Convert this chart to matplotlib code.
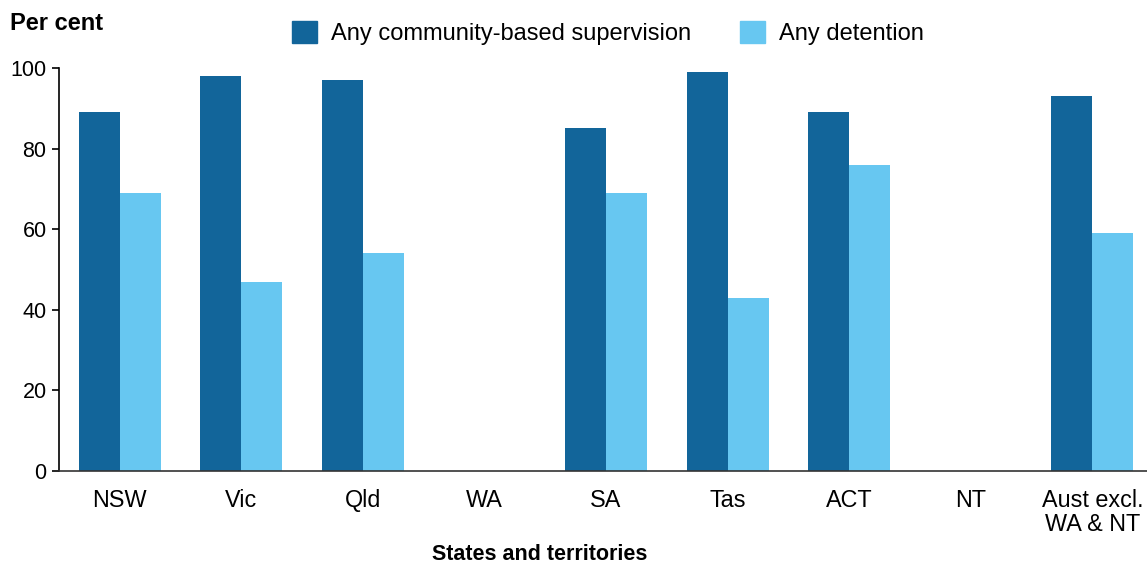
import numpy as np
import matplotlib.pyplot as plt
from matplotlib.patches import Patch

plt.rcParams.update({'font.family': ['Liberation Sans', 'DejaVu Sans']})

# data
categories = ['NSW', 'Vic', 'Qld', 'WA', 'SA', 'Tas', 'ACT', 'NT', 'Aust excl.\nWA & NT']
community = [89, 98, 97, np.nan, 85, 99, 89, np.nan, 93]
detention = [69, 47, 54, np.nan, 69, 43, 76, np.nan, 59]
series_names = ['Any community-based supervision', 'Any detention']

DARK = '#12659a'
LIGHT = '#67c7f1'

fig = plt.figure(figsize=(11.47, 5.64), dpi=100)
ax = fig.add_axes([59 / 1147, 1 - 471 / 564, 1 - 59 / 1147, (471 - 68) / 564])

x = np.arange(len(categories))
w = 0.3375
ax.bar(x - w / 2, np.nan_to_num(community), width=w, color=DARK, linewidth=0)
ax.bar(x + w / 2, np.nan_to_num(detention), width=w, color=LIGHT, linewidth=0)

ax.set_xlim(-0.5, 8.45)
ax.set_ylim(0, 100)
ax.set_yticks([0, 20, 40, 60, 80, 100])
ax.set_xticks(x)
ax.set_xticklabels(categories, fontsize=16.8, linespacing=1.05)
ax.tick_params(axis='x', length=0, pad=13)
ax.tick_params(axis='y', labelsize=15.5, length=5, width=1.2, pad=4)

for s in ['top', 'right']:
    ax.spines[s].set_visible(False)
ax.spines['left'].set_linewidth(1.2)
ax.spines['bottom'].set_linewidth(1.2)
ax.spines['bottom'].set_color('#333333')

fig.text(10 / 1147, 1 - 24 / 564, 'Per cent', fontsize=17, fontweight='bold',
         ha='left', va='center')
fig.text(540 / 1147, 1 - 555 / 564, 'States and territories', fontsize=15.5,
         fontweight='bold', ha='center', va='center')

handles = [Patch(color=DARK), Patch(color=LIGHT)]
fig.legend(handles, series_names, loc='center left', ncol=2, frameon=False,
           bbox_to_anchor=(292 / 1147, 1 - 33 / 564), fontsize=17,
           borderpad=0, borderaxespad=0,
           handlelength=1.06, handleheight=1.05, handletextpad=0.6, columnspacing=2.05)

fig.savefig('out.png', dpi=100)
